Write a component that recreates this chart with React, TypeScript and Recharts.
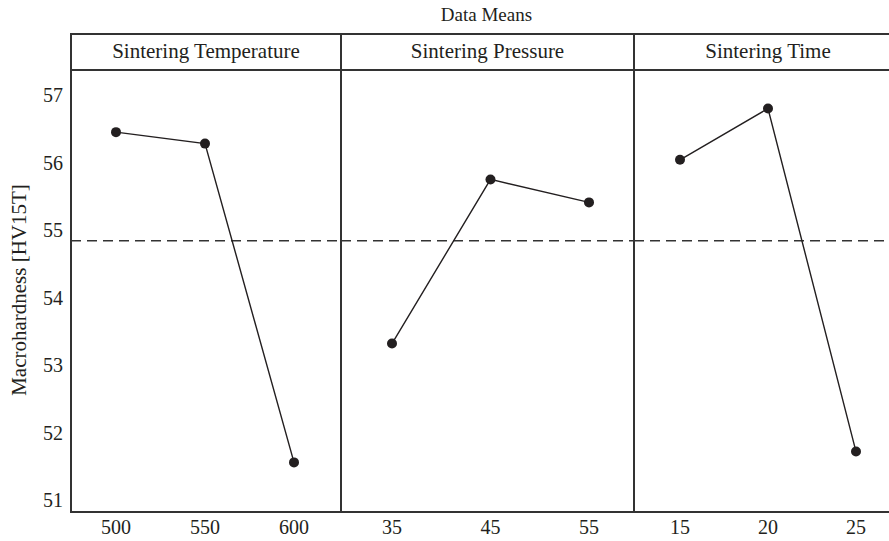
import { LineChart, Line, XAxis, YAxis, ReferenceLine } from "recharts";

// factor levels (x tick labels)
const temperatureLevels = ["500", "550", "600"];
const pressureLevels = ["35", "45", "55"];
const timeLevels = ["15", "20", "25"];

// mean macrohardness per level
const temperatureMeans = [56.45, 56.28, 51.56];
const pressureMeans = [53.32, 55.75, 55.41];
const timeMeans = [56.04, 56.8, 51.72];

const grandMean = 54.84;
const yTicks = [51, 52, 53, 54, 55, 56, 57];
const panelTitles = ["Sintering Temperature", "Sintering Pressure", "Sintering Time"];

const INK = "#231f20";
const FRAME = "#333333";
const FONT = "'Liberation Serif', 'Times New Roman', serif";

// layout
const PLOT_LEFT = 71;
const DIVIDERS = [341, 634];
const PLOT_RIGHT = 902;
const HEADER_TOP = 33;
const PLOT_TOP = 69;
const PLOT_BOTTOM = 511;
const X_AXIS_H = 30;
const Y_DOMAIN: [number, number] = [50.84, 57.385];

const toRows = (levels: string[], means: number[]) =>
  levels.map((level, i) => ({ level, mean: means[i] }));

const panels = [
  { rows: toRows(temperatureLevels, temperatureMeans), left: 0, width: DIVIDERS[0], pad: { left: 45, right: 47 }, showY: true },
  { rows: toRows(pressureLevels, pressureMeans), left: DIVIDERS[0], width: DIVIDERS[1] - DIVIDERS[0], pad: { left: 51, right: 45 }, showY: false },
  { rows: toRows(timeLevels, timeMeans), left: DIVIDERS[1], width: PLOT_RIGHT - DIVIDERS[1], pad: { left: 46, right: 46 }, showY: false },
];

const tickStyle = { fontSize: 20, fill: INK, fontFamily: FONT };

function Panel({ rows, width, pad, showY }: (typeof panels)[number]) {
  return (
    <LineChart
      width={width}
      height={PLOT_BOTTOM - PLOT_TOP + X_AXIS_H}
      data={rows}
      margin={{ top: 0, right: 0, bottom: 0, left: 0 }}
    >
      <XAxis
        dataKey="level"
        padding={pad}
        tick={tickStyle}
        tickLine={false}
        axisLine={false}
        tickMargin={3}
        height={X_AXIS_H}
        interval={0}
      />
      <YAxis
        hide={!showY}
        width={showY ? PLOT_LEFT : 0}
        domain={Y_DOMAIN}
        ticks={yTicks}
        allowDataOverflow
        tick={tickStyle}
        tickLine={false}
        axisLine={false}
        label={{
          value: "Macrohardness [HV15T]",
          angle: -90,
          position: "insideLeft",
          offset: 19,
          style: { textAnchor: "middle", fontSize: 21, fill: INK, fontFamily: FONT },
        }}
      />
      <ReferenceLine y={grandMean} stroke={FRAME} strokeWidth={1.5} strokeDasharray="10 6" />
      <Line
        type="linear"
        dataKey="mean"
        stroke={INK}
        strokeWidth={1.4}
        dot={{ r: 5, fill: INK, stroke: INK, strokeWidth: 0 }}
        activeDot={false}
        isAnimationActive={false}
      />
    </LineChart>
  );
}

const line = (style: React.CSSProperties) => (
  <div style={{ position: "absolute", background: FRAME, ...style }} />
);

export default function App() {
  const edges = [PLOT_LEFT, ...DIVIDERS, PLOT_RIGHT];
  return (
    <div
      style={{
        position: "absolute",
        left: 0,
        top: 0,
        width: 889,
        height: 541,
        overflow: "hidden",
        background: "#fff",
        fontFamily: FONT,
        color: INK,
      }}
    >
      <div
        style={{
          position: "absolute",
          left: PLOT_LEFT,
          width: PLOT_RIGHT - PLOT_LEFT,
          top: 3,
          height: 24,
          lineHeight: "24px",
          textAlign: "center",
          fontSize: 19,
        }}
      >
        Data Means
      </div>

      {panelTitles.map((t, i) => (
        <div
          key={t}
          style={{
            position: "absolute",
            left: edges[i],
            width: edges[i + 1] - edges[i],
            top: HEADER_TOP,
            height: PLOT_TOP - HEADER_TOP,
            lineHeight: `${PLOT_TOP - HEADER_TOP}px`,
            textAlign: "center",
            fontSize: 21,
          }}
        >
          {t}
        </div>
      ))}

      {panels.map((p, i) => (
        <div key={i} style={{ position: "absolute", left: p.left, top: PLOT_TOP }}>
          <Panel {...p} />
        </div>
      ))}

      {/* frame */}
      {line({ left: PLOT_LEFT, top: HEADER_TOP, width: PLOT_RIGHT - PLOT_LEFT, height: 1.5 })}
      {line({ left: PLOT_LEFT, top: PLOT_TOP, width: PLOT_RIGHT - PLOT_LEFT, height: 1.5 })}
      {line({ left: PLOT_LEFT, top: PLOT_BOTTOM, width: PLOT_RIGHT - PLOT_LEFT, height: 1.5 })}
      {edges.map((x) =>
        line({ left: x - 0.75, top: HEADER_TOP, width: 1.5, height: PLOT_BOTTOM - HEADER_TOP + 1.5 })
      )}
    </div>
  );
}
